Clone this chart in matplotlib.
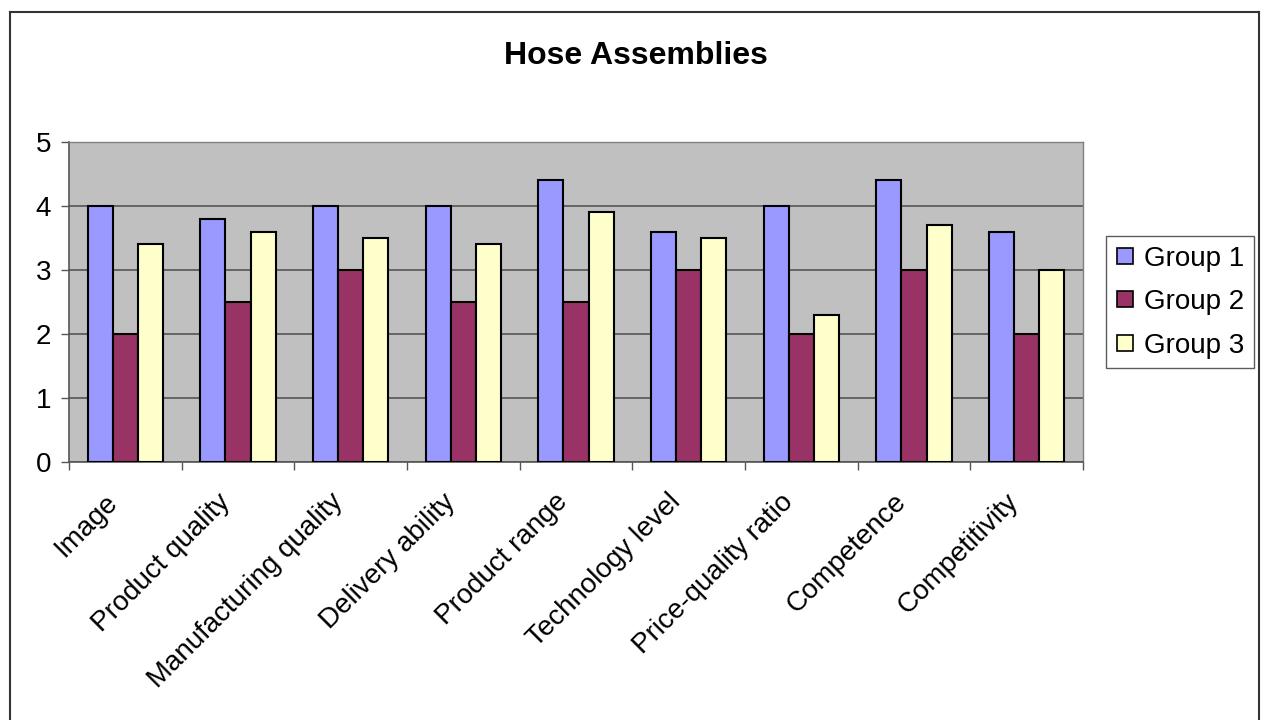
import matplotlib
matplotlib.use("Agg")
import matplotlib.pyplot as plt
import matplotlib.transforms as mtransforms
import numpy as np
from matplotlib.lines import Line2D

plt.rcParams['font.family'] = ['Liberation Sans', 'DejaVu Sans']

categories = ["Image", "Product quality", "Manufacturing quality", "Delivery ability",
              "Product range", "Technology level", "Price-quality ratio",
              "Competence", "Competitivity"]
group1 = [4.0, 3.8, 4.0, 4.0, 4.4, 3.6, 4.0, 4.4, 3.6]
group2 = [2.0, 2.5, 3.0, 2.5, 2.5, 3.0, 2.0, 3.0, 2.0]
group3 = [3.4, 3.6, 3.5, 3.4, 3.9, 3.5, 2.3, 3.7, 3.0]
series_names = ["Group 1", "Group 2", "Group 3"]
colors = ["#9999FF", "#993366", "#FFFFCC"]

fig = plt.figure(figsize=(12.64, 7.2), dpi=100)
ax = fig.add_axes([69 / 1264, 1 - 462 / 720, (1083 - 69) / 1264, (462 - 142) / 720])
ax.set_facecolor("#C0C0C0")

x = np.arange(len(categories))
w = 1 / 4.5
for i, (vals, name, c) in enumerate(zip([group1, group2, group3], series_names, colors)):
    ax.bar(x + (i - 1) * w, vals, width=w, color=c, edgecolor="black",
           linewidth=1.5, label=name, zorder=3)

ax.set_xlim(-0.5, len(categories) - 0.5)
ax.set_ylim(0, 5)
ax.set_yticks(range(6))
ax.yaxis.grid(True, color="#555555", linewidth=1.2, zorder=1)
ax.tick_params(axis='y', labelsize=20, length=6, width=1, color="#555555", direction='out', pad=7)

ax.set_xticks(x)
ax.set_xticklabels(categories, rotation=45, ha='right', va='center',
                   rotation_mode='anchor', fontsize=20)
ax.tick_params(axis='x', which='major', length=0, pad=0)
ax.set_xticks(np.arange(-0.5, len(categories)), minor=True)
ax.tick_params(axis='x', which='minor', length=6, width=1, color="#555555", direction='out')

# shift the rotated category labels so their ends sit just below-left of each group
shift = mtransforms.ScaledTranslation(-12 / 100, -36 / 100, fig.dpi_scale_trans)
for lbl in ax.get_xticklabels():
    lbl.set_transform(lbl.get_transform() + shift)

for s in ["left", "bottom"]:
    ax.spines[s].set_color("#555555")
    ax.spines[s].set_linewidth(1.2)
for s in ["top", "right"]:
    ax.spines[s].set_color("#808080")
    ax.spines[s].set_linewidth(1.0)

fig.text(636 / 1264, 1 - 56 / 720, "Hose Assemblies", ha='center', va='center',
         fontsize=23, fontweight='bold')

handles = [Line2D([0], [0], marker='s', linestyle='none', markersize=12,
                  markerfacecolor=c, markeredgecolor='black', markeredgewidth=1.2)
           for c in colors]
leg = fig.legend(handles, series_names, loc='center left',
                 bbox_to_anchor=(1106 / 1264, 1 - 302 / 720), fontsize=20,
                 frameon=True, fancybox=False, edgecolor='#333333',
                 handlelength=0.7, handletextpad=0.35, labelspacing=0.63,
                 borderpad=0.33, borderaxespad=0)
leg.get_frame().set_linewidth(1.0)

# outer chart frame
fw, fh = 1264, 720
fig.add_artist(Line2D([10 / fw, 10 / fw], [0, 1 - 12 / fh], color='#333333', lw=1.5))
fig.add_artist(Line2D([10 / fw, 1259 / fw], [1 - 12 / fh, 1 - 12 / fh], color='#333333', lw=1.5))
fig.add_artist(Line2D([1259 / fw, 1259 / fw], [0, 1 - 12 / fh], color='#333333', lw=1.5))

fig.savefig("out.png", dpi=100)
